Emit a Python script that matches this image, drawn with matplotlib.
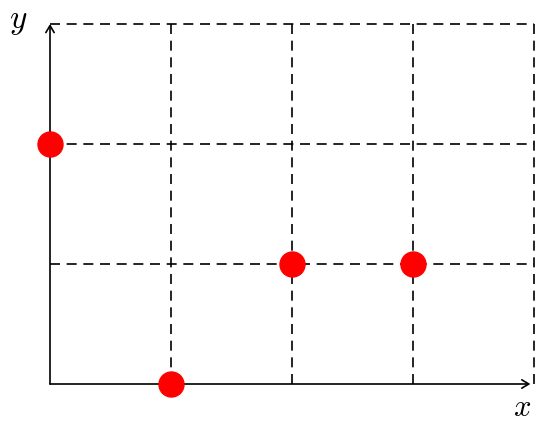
import matplotlib
matplotlib.use("Agg")
import matplotlib.pyplot as plt

# grid positions and points
x_grid = [1, 2, 3, 4]
y_grid = [1, 2, 3]
px = [0, 1, 2, 3]
py = [2, 0, 1, 1]

plt.rcParams['mathtext.fontset'] = 'cm'

fig = plt.figure(figsize=(5.41, 4.24), dpi=100)
ax = fig.add_axes([50 / 541, 40 / 424, 484 / 541, 360 / 424])
ax.set_xlim(0, 4)
ax.set_ylim(0, 3)
ax.axis('off')

# dashed grid
for gx in x_grid:
    ax.plot([gx, gx], [0, 3], color='black', lw=1.2, dashes=(6, 4), clip_on=False)
for gy in y_grid:
    ax.plot([0, 4], [gy, gy], color='black', lw=1.2, dashes=(6, 4), clip_on=False)

# axes with arrows
ax.annotate('', xy=(3.97, 0), xytext=(0, 0),
            arrowprops=dict(arrowstyle='->, head_width=0.3, head_length=0.5',
                            color='black', lw=1.2, shrinkA=0, shrinkB=0),
            annotation_clip=False)
ax.annotate('', xy=(0, 3), xytext=(0, 0),
            arrowprops=dict(arrowstyle='->, head_width=0.3, head_length=0.5',
                            color='black', lw=1.2, shrinkA=0, shrinkB=0),
            annotation_clip=False)

ax.text(-0.26, 3.03, '$y$', fontsize=24, ha='center', va='center')
ax.text(3.9, -0.2, '$x$', fontsize=22, ha='center', va='center')

ax.plot(px, py, 'o', color='#ff0000', markersize=18, clip_on=False, zorder=5)

fig.savefig('out.png', dpi=100)
